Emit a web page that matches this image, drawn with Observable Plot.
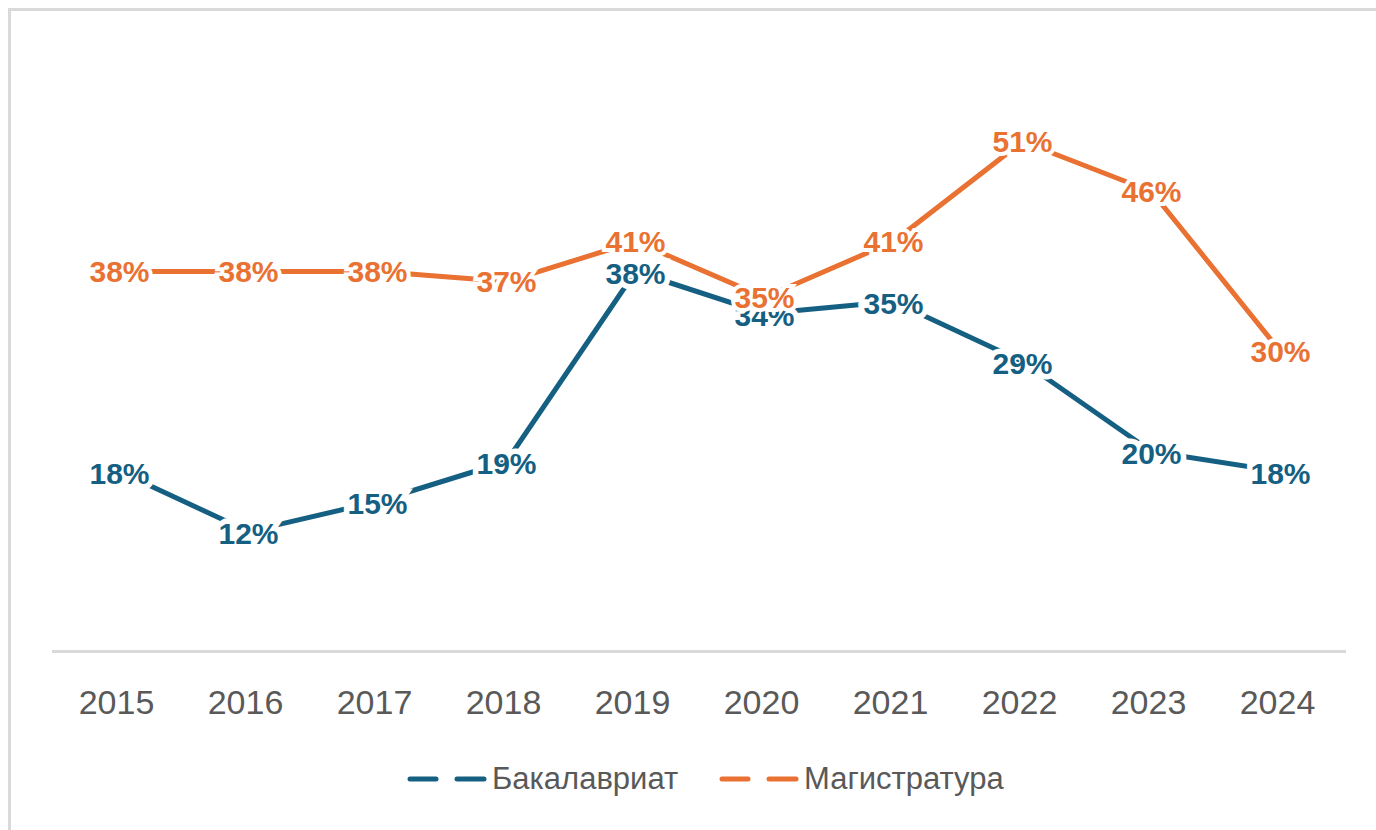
<!DOCTYPE html>
<html>
<head>
<meta charset="utf-8">
<script src="https://cdn.jsdelivr.net/npm/d3@7"></script>
<script src="https://cdn.jsdelivr.net/npm/@observablehq/plot@0.6"></script>
<style>
  html, body { margin: 0; padding: 0; background: #fff; }
  body { width: 1376px; height: 830px; overflow: hidden; position: relative; font-family: "Liberation Sans", Arial, sans-serif; }
  #frame { position: absolute; left: 8px; top: 8px; width: 1400px; height: 900px; border-left: 3px solid #d9d9d9; border-top: 3px solid #d9d9d9; box-sizing: border-box; }
  #chart { position: absolute; left: 0; top: 0; }
  #legend { position: absolute; top: 761px; left: 0; width: 1376px; height: 36px; }
  .item { position: absolute; top: 0; display: flex; align-items: center; height: 36px; }
  .item span { font-size: 31px; color: #595959; margin-left: 5px; }
</style>
</head>
<body>
<div id="frame"></div>
<div id="chart"></div>
<div id="legend"></div>
<script>
const years = [2015, 2016, 2017, 2018, 2019, 2020, 2021, 2022, 2023, 2024];
// values (labels show them rounded)
const bachelor = [18, 12, 15, 19, 38, 33.8, 35, 29, 20, 18];
const master = [38, 38, 38, 37, 41, 35.4, 41, 51, 46, 30];
const seriesNames = ["Бакалавриат", "Магистратура"];
const seriesColors = ["#156082", "#E97132"];

const rows = [];
years.forEach((y, i) => rows.push({year: y, value: bachelor[i], series: seriesNames[0]}));
years.forEach((y, i) => rows.push({year: y, value: master[i], series: seriesNames[1]}));
const bRows = rows.filter(d => d.series === seriesNames[0]);
const mRows = rows.filter(d => d.series === seriesNames[1]);
const fmt = d => Math.round(d.value) + "%";

const chart = Plot.plot({
  width: 1376,
  height: 740,
  marginLeft: 52,
  marginRight: 30,
  marginTop: 51,
  marginBottom: 89,
  style: { fontFamily: "Liberation Sans, Arial, sans-serif", background: "transparent", overflow: "visible" },
  x: { type: "point", domain: years, label: null },
  y: { domain: [0, 60], axis: null },
  color: { domain: seriesNames, range: seriesColors },
  marks: [
    Plot.ruleY([0], { stroke: "#d9d9d9", strokeWidth: 3 }),
    Plot.axisX({ tickSize: 0, tickPadding: 38, fontSize: 34, color: "#595959", label: null, tickFormat: d => String(d), dx: -3 }),
    Plot.line(bRows, { x: "year", y: "value", stroke: seriesColors[0], strokeWidth: 5, strokeLinecap: "butt" }),
    Plot.line(mRows, { x: "year", y: "value", stroke: seriesColors[1], strokeWidth: 5, strokeLinecap: "butt" }),
    Plot.text(bRows, { x: "year", y: "value", text: fmt, fill: seriesColors[0], fontSize: 30, fontWeight: "bold", stroke: "white", strokeWidth: 11, strokeLinejoin: "miter", paintOrder: "stroke", dy: 3 }),
    Plot.text(mRows, { x: "year", y: "value", text: fmt, fill: seriesColors[1], fontSize: 30, fontWeight: "bold", stroke: "white", strokeWidth: 8, strokeLinejoin: "miter", paintOrder: "stroke", dy: 1 })
  ]
});
document.getElementById("chart").appendChild(chart);

const legend = document.getElementById("legend");
const lefts = [407, 719];
seriesNames.forEach((name, i) => {
  const item = document.createElement("div");
  item.className = "item";
  item.style.left = lefts[i] + "px";
  item.innerHTML = `<svg width="80" height="36"><line x1="3" y1="18" x2="29" y2="18" stroke="${seriesColors[i]}" stroke-width="5" stroke-linecap="round"/><line x1="50" y1="18" x2="77" y2="18" stroke="${seriesColors[i]}" stroke-width="5" stroke-linecap="round"/></svg><span>${name}</span>`;
  legend.appendChild(item);
});
</script>
</body>
</html>
